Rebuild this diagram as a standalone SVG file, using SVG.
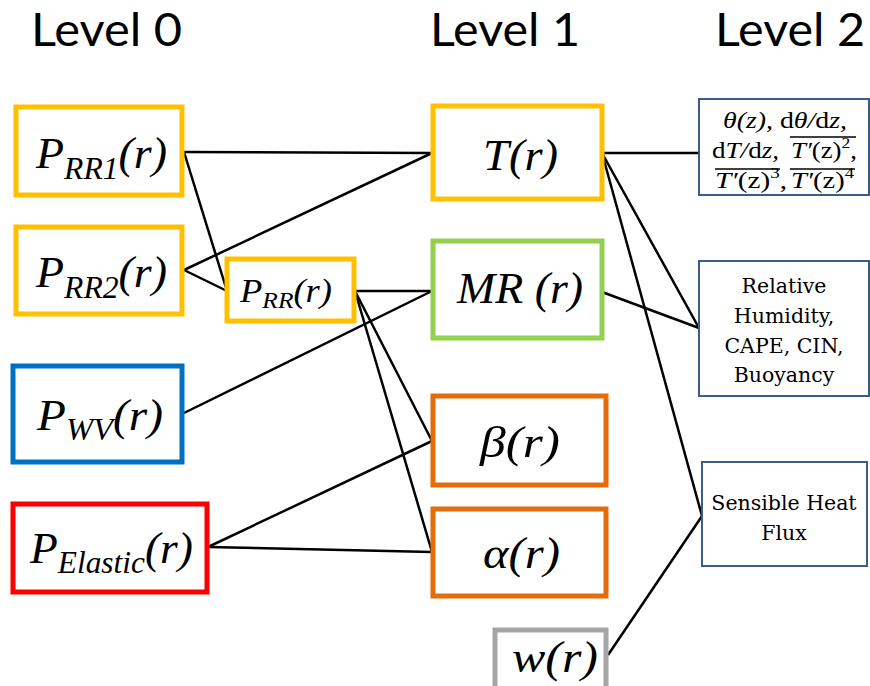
<svg xmlns="http://www.w3.org/2000/svg" width="870" height="686" viewBox="0 0 870 686">
<style>
.title{font-family:Lato,"Open Sans","Liberation Sans",sans-serif;font-size:46px;fill:#000}
.box{fill:#fff;stroke-width:5}
.y{stroke:#FFC000}.g{stroke:#92D050}.b{stroke:#0070C0}.r{stroke:#FF0000}.o{stroke:#E46C0A}.gr{stroke:#A6A6A6}
.l2{fill:#fff;stroke:#385D8A;stroke-width:2}
.m{font-family:"Liberation Serif","Times New Roman",serif;font-style:italic;fill:#000}
.t2{font-family:"DejaVu Serif","Liberation Serif",serif;font-size:20.5px;fill:#000;text-anchor:middle}
.mm{font-family:"Liberation Serif","Times New Roman",serif;font-size:23px;fill:#000}
.it{font-style:italic}
.c line{stroke:#000;stroke-width:2.5}
.ov{stroke:#000;stroke-width:1.3}
</style>
<rect width="870" height="686" fill="#fff"/>
<text class="title" x="31" y="46" textLength="151" lengthAdjust="spacingAndGlyphs">Level 0</text>
<text class="title" x="430" y="46" textLength="150" lengthAdjust="spacingAndGlyphs">Level 1</text>
<text class="title" x="715" y="46" textLength="150" lengthAdjust="spacingAndGlyphs">Level 2</text>

<g class="c" id="connectors">
<line x1="184" y1="152" x2="432" y2="153"/>
<line x1="184" y1="152" x2="227" y2="291"/>
<line x1="184" y1="270" x2="432" y2="153"/>
<line x1="184" y1="270" x2="227" y2="291"/>
<line x1="355" y1="291" x2="432" y2="291"/>
<line x1="355" y1="291" x2="432" y2="441"/>
<line x1="355" y1="291" x2="432" y2="552"/>
<line x1="184" y1="413" x2="432" y2="291"/>
<line x1="208" y1="547" x2="432" y2="441"/>
<line x1="208" y1="547" x2="432" y2="552"/>
<line x1="602" y1="153" x2="699" y2="153"/>
<line x1="602" y1="153" x2="699" y2="328"/>
<line x1="602" y1="153" x2="702" y2="516"/>
<line x1="602" y1="292" x2="699" y2="328"/>
<line x1="608" y1="655" x2="702" y2="516"/>
</g>

<g id="prr1">
<rect class="box y" x="16" y="107" width="166" height="88"/>
<text class="m" x="36" y="168" font-size="45" textLength="131" lengthAdjust="spacingAndGlyphs">P<tspan font-size="31" dy="11">RR1</tspan><tspan font-size="45" dy="-11">(r)</tspan></text>
</g>
<g id="prr2">
<rect class="box y" x="16" y="227" width="166" height="87"/>
<text class="m" x="36" y="287" font-size="45" textLength="131" lengthAdjust="spacingAndGlyphs">P<tspan font-size="31" dy="11">RR2</tspan><tspan font-size="45" dy="-11">(r)</tspan></text>
</g>
<g id="prr">
<rect class="box y" x="227" y="259" width="127" height="62" stroke-width="4.5"/>
<text class="m" x="240" y="302" font-size="33" textLength="92" lengthAdjust="spacingAndGlyphs">P<tspan font-size="23" dy="6">RR</tspan><tspan font-size="33" dy="-6">(r)</tspan></text>
</g>
<g id="pwv">
<rect class="box b" x="13" y="366" width="169" height="96"/>
<text class="m" x="37" y="430" font-size="45" textLength="126" lengthAdjust="spacingAndGlyphs">P<tspan font-size="31" dy="10">WV</tspan><tspan font-size="45" dy="-10">(r)</tspan></text>
</g>
<g id="pelastic">
<rect class="box r" x="13" y="504" width="194" height="88"/>
<text class="m" x="30" y="563" font-size="45" textLength="163" lengthAdjust="spacingAndGlyphs">P<tspan font-size="31" dy="10">Elastic</tspan><tspan font-size="45" dy="-10">(r)</tspan></text>
</g>
<g id="t">
<rect class="box y" x="433" y="106" width="169" height="93"/>
<text class="m" x="483" y="170" font-size="45" textLength="75" lengthAdjust="spacingAndGlyphs">T(r)</text>
</g>
<g id="mr">
<rect class="box g" x="433" y="241" width="169" height="97"/>
<text class="m" x="457" y="303" font-size="45" textLength="126" lengthAdjust="spacingAndGlyphs">MR (r)</text>
</g>
<g id="beta">
<rect class="box o" x="433" y="396" width="173" height="89"/>
<text class="m" x="480" y="457" font-size="45" textLength="80" lengthAdjust="spacingAndGlyphs">β(r)</text>
</g>
<g id="alpha">
<rect class="box o" x="433" y="509" width="173" height="87"/>
<text class="m" x="483" y="568" font-size="45" textLength="77" lengthAdjust="spacingAndGlyphs">α(r)</text>
</g>
<g id="w">
<rect class="box gr" x="495" y="630" width="111" height="62"/>
<text class="m" x="512" y="672" font-size="45" textLength="86" lengthAdjust="spacingAndGlyphs">w(r)</text>
</g>

<g id="stats">
<rect class="l2" x="699" y="99" width="170" height="96"/>
<text class="mm" x="723" y="128" textLength="124" lengthAdjust="spacingAndGlyphs"><tspan class="it">θ(z),</tspan> d<tspan class="it">θ/</tspan>d<tspan class="it">z,</tspan></text>
<text class="mm" x="712" y="158" textLength="67" lengthAdjust="spacingAndGlyphs">d<tspan class="it">T/</tspan>d<tspan class="it">z,</tspan></text>
<text class="mm" x="791" y="158" textLength="66" lengthAdjust="spacingAndGlyphs"><tspan class="it">T′</tspan>(z)<tspan font-size="15" dy="-10">2</tspan><tspan dy="10">,</tspan></text>
<text class="mm" x="715" y="188" textLength="72" lengthAdjust="spacingAndGlyphs"><tspan class="it">T′</tspan>(z)<tspan font-size="15" dy="-10">3</tspan><tspan dy="10">,</tspan></text>
<text class="mm" x="791" y="188" textLength="63" lengthAdjust="spacingAndGlyphs"><tspan class="it">T′</tspan>(z)<tspan font-size="15" dy="-10">4</tspan></text>
<line class="ov" x1="790" y1="137" x2="856" y2="137"/>
<line class="ov" x1="715" y1="169" x2="780" y2="169"/>
<line class="ov" x1="790" y1="169" x2="855" y2="169"/>
</g>
<g id="humidity">
<rect class="l2" x="699" y="261" width="170" height="135"/>
<text class="t2" x="784" y="293">Relative</text>
<text class="t2" x="784" y="323">Humidity,</text>
<text class="t2" x="784" y="353">CAPE, CIN,</text>
<text class="t2" x="784" y="382">Buoyancy</text>
</g>
<g id="heatflux">
<rect class="l2" x="702" y="462" width="165" height="104"/>
<text class="t2" x="784" y="510">Sensible Heat</text>
<text class="t2" x="784" y="540">Flux</text>
</g>
</svg>
